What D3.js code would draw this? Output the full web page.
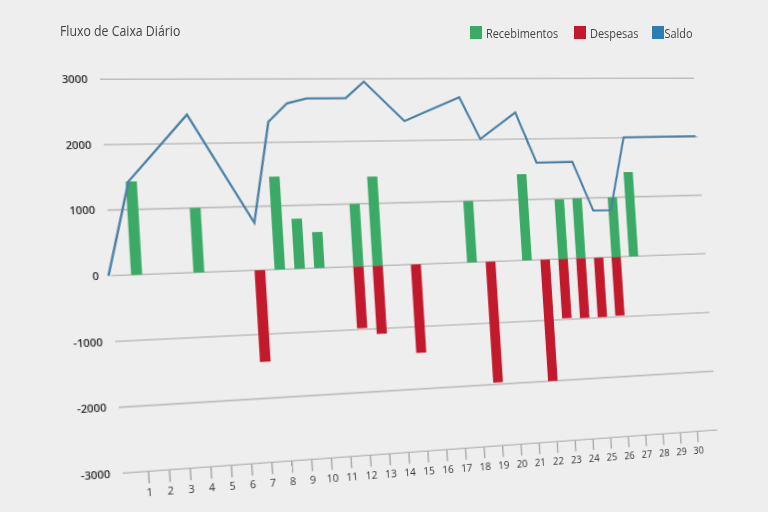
<!DOCTYPE html>
<html>
<head>
<meta charset="utf-8">
<script src="https://cdn.jsdelivr.net/npm/d3@7"></script>
<style>
  html, body { margin: 0; padding: 0; background: #eeeeee; }
  #wrap { position: relative; width: 768px; height: 512px; overflow: hidden; background: #eeeeee; }
  #plane { position: absolute; left: 0; top: 0; width: 768px; height: 512px; transform-origin: 0 0; }
  #overlay { position: absolute; left: 0; top: 0; }
</style>
</head>
<body>
<div id="wrap">
  <div id="plane"><svg id="chart" width="768" height="512"></svg></div>
  <svg id="overlay" width="768" height="512"></svg>
</div>
<script>
// ---------------- data ----------------
const dias = d3.range(1, 31);
const recebDias    = [1, 4, 8, 9, 10, 12, 13, 18, 21, 23, 24, 26, 27];
const recebValores = [1430, 1000, 1460, 790, 570, 1000, 1430, 1000, 1420, 990, 1000, 1000, 1420];
const despDias     = [7, 12, 13, 15, 19, 22, 23, 24, 25, 26];
const despValores  = [-1430, -980, -1085, -1420, -1970, -2000, -980, -990, -990, -980];
const saldoDias    = [-0.2, 1, 4, 7, 8, 9, 10, 12, 13, 15, 18, 19, 21, 22, 24, 25, 26, 27, 31.2];
const saldoValores = [0, 1430, 2450, 745, 2325, 2615, 2690, 2690, 2955, 2315, 2695, 2010, 2440, 1605, 1610, 790, 785, 2005, 2010];
const yTicks = [-3000, -2000, -1000, 0, 1000, 2000, 3000];
const xDomain = [-0.2, 31.2];
const legendItems = ["Recebimentos", "Despesas", "Saldo"];
const colors = { Recebimentos: "#3aaa66", Despesas: "#c21a2c", Saldo: "#2f7cb3" };
const lineColor = "#4a80a6";

// ---------------- flat layout ----------------
const PL = 100, PR = 694, PT = 79.3, PB = 473.3;
const x = d3.scaleLinear().domain(xDomain).range([PL, PR]);
const y = d3.scaleLinear().domain([-3000, 3000]).range([PB, PT]);

const svg = d3.select("#chart");
const gridColor = "#bcbcbc";
const font = "'Open Sans', 'Noto Sans', sans-serif";

// gridlines
svg.append("g").selectAll("line").data(yTicks).join("line")
  .attr("x1", PL).attr("x2", PR)
  .attr("y1", d => y(d)).attr("y2", d => y(d))
  .attr("stroke", gridColor).attr("stroke-width", 1.6);

// y labels
const yAxis = svg.append("g").attr("transform", `translate(${PL},0)`)
  .call(d3.axisLeft(y).tickValues(yTicks).tickSize(0).tickPadding(11).tickFormat(d => String(d)));
yAxis.select(".domain").remove();
yAxis.selectAll("text").attr("font-family", font)
  .attr("font-size", 10).attr("fill", "#2e2e2e").attr("font-weight", 600);

// x axis ticks & labels
const xAxis = svg.append("g").attr("transform", `translate(0,${y(-3000)})`)
  .call(d3.axisBottom(x).tickValues(dias).tickSize(12).tickPadding(6).tickFormat(d => String(d)));
xAxis.select(".domain").remove();
xAxis.selectAll(".tick line").attr("stroke", "#a8a8a8").attr("stroke-width", 1.4);
xAxis.selectAll("text").attr("font-family", font)
  .attr("font-size", 10).attr("fill", "#333");

// bars
const bw = 10;
const receb = recebDias.map((d, i) => ({ d, v: recebValores[i] }));
const desp = despDias.map((d, i) => ({ d, v: despValores[i] }));
svg.append("g").selectAll("rect").data(receb).join("rect")
  .attr("x", p => x(p.d) - bw / 2).attr("width", bw)
  .attr("y", p => y(p.v)).attr("height", p => y(0) - y(p.v))
  .attr("fill", colors.Recebimentos);
svg.append("g").selectAll("rect").data(desp).join("rect")
  .attr("x", p => x(p.d) - bw / 2).attr("width", bw)
  .attr("y", y(0)).attr("height", p => y(p.v) - y(0))
  .attr("fill", colors.Despesas);

// saldo line
const saldo = saldoDias.map((d, i) => ({ d, v: saldoValores[i] }));
svg.append("g").attr("transform", "translate(-2.5,0)")
  .append("path").datum(saldo)
  .attr("d", d3.line().x(p => x(p.d)).y(p => y(p.v)))
  .attr("fill", "none").attr("stroke", lineColor).attr("stroke-width", 2.2);

// ---------------- perspective (homography from plot frame to photographed frame) ----------------
function homography(src, dst) {
  const A = [], b = [];
  for (let i = 0; i < 4; i++) {
    const [sx, sy] = src[i], [dx, dy] = dst[i];
    A.push([sx, sy, 1, 0, 0, 0, -sx * dx, -sy * dx]); b.push(dx);
    A.push([0, 0, 0, sx, sy, 1, -sx * dy, -sy * dy]); b.push(dy);
  }
  const n = 8;
  for (let c = 0; c < n; c++) {
    let p = c;
    for (let r = c + 1; r < n; r++) if (Math.abs(A[r][c]) > Math.abs(A[p][c])) p = r;
    [A[c], A[p]] = [A[p], A[c]]; [b[c], b[p]] = [b[p], b[c]];
    for (let r = 0; r < n; r++) {
      if (r === c) continue;
      const f = A[r][c] / A[c][c];
      for (let k = c; k < n; k++) A[r][k] -= f * A[c][k];
      b[r] -= f * b[c];
    }
  }
  return b.map((v, i) => v / A[i][i]);
}
const frameSrc = [[PL, PT], [PR, PT], [PR, PB], [PL, PB]];
const frameDst = [[100, 79.3], [694, 78.3], [717.3, 430], [122.7, 473.3]];
const [ha, hb, hc, hd, he, hf, hg, hh] = homography(frameSrc, frameDst);
document.getElementById("plane").style.transform =
  `matrix3d(${ha},${hd},0,${hg},${hb},${he},0,${hh},0,0,1,0,${hc},${hf},0,1)`;

// ---------------- title & legend (upright, condensed) ----------------
const ov = d3.select("#overlay");
ov.append("text").attr("transform", "translate(60,36) scale(0.85,1)")
  .attr("font-family", font).attr("font-size", 14.5).attr("fill", "#444")
  .text("Fluxo de Caixa Diário");

const legendX = [470, 574, 652];
const lg = ov.append("g").selectAll("g").data(legendItems).join("g")
  .attr("transform", (d, i) => `translate(${legendX[i]},26)`);
lg.append("rect").attr("width", 12).attr("height", 13).attr("fill", d => colors[d]);
lg.append("text")
  .attr("transform", d => `translate(${d === "Saldo" ? 12.5 : 16},12) scale(0.81,1)`)
  .attr("font-family", font).attr("font-size", 13.5).attr("fill", "#444").text(d => d);
</script>
</body>
</html>
